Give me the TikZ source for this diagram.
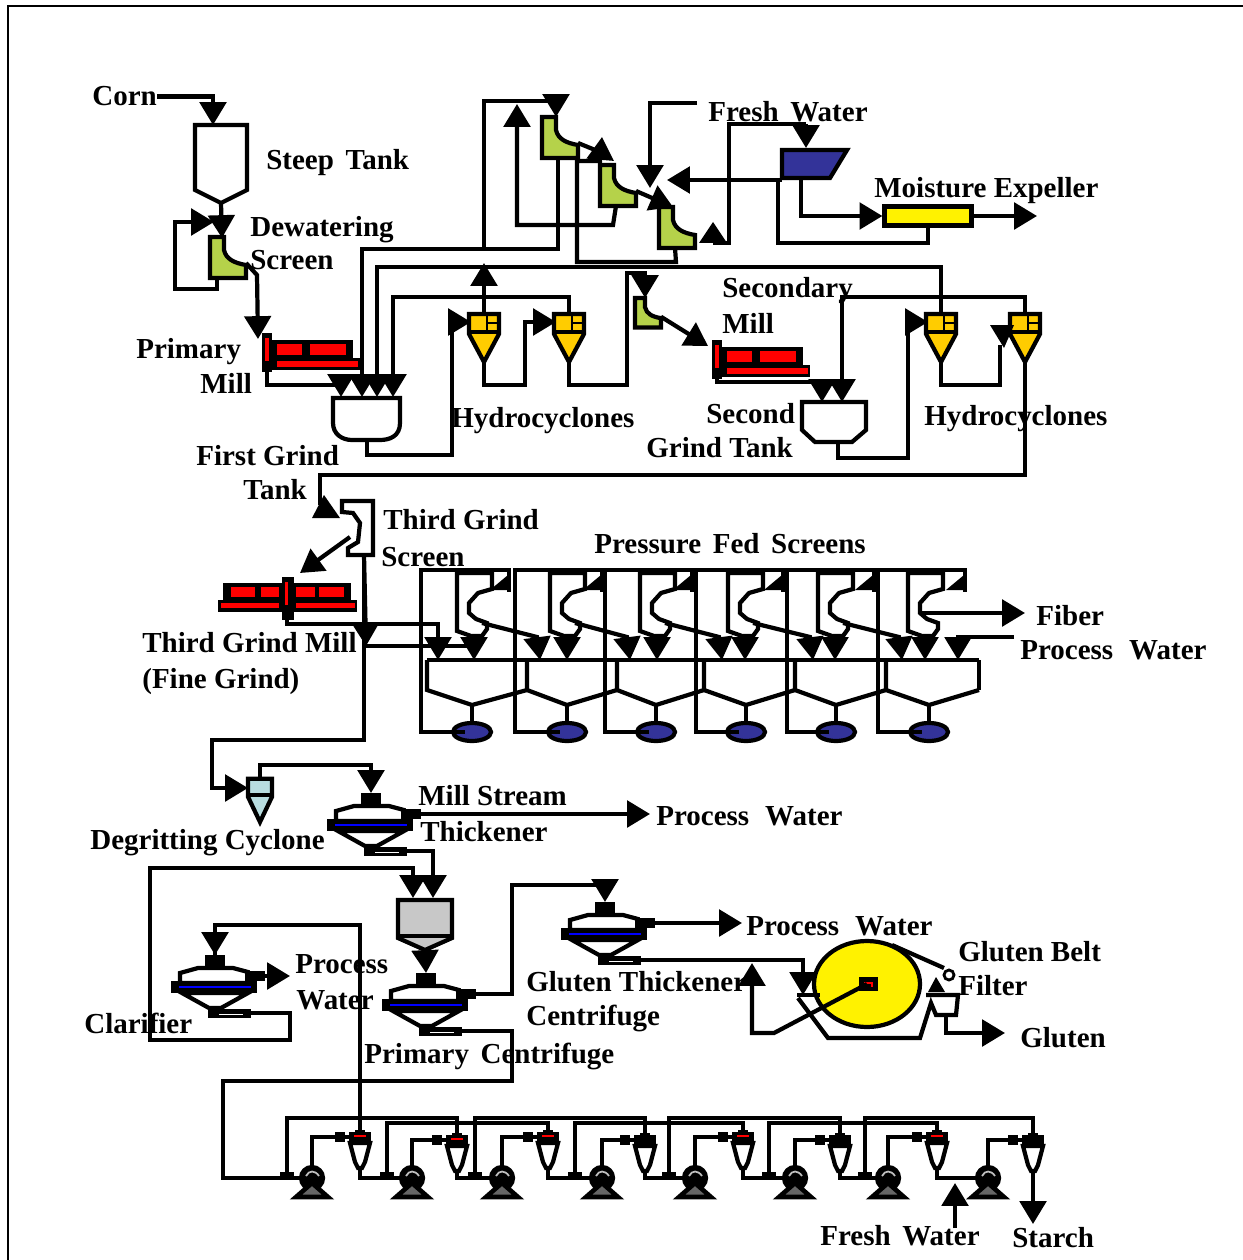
\documentclass[tikz,border=0pt]{standalone}
\usepackage{fontspec}
\setmainfont{Liberation Serif}
\usetikzlibrary{arrows.meta}
\definecolor{scrgreen}{HTML}{B5D24A}
\definecolor{hcyellow}{HTML}{FFCC00}
\definecolor{dcblue}{HTML}{B8DDE0}
\definecolor{pressblue}{HTML}{333399}
\definecolor{tankgray}{HTML}{C8C8C8}
\definecolor{pumpgray}{HTML}{666666}
\newcommand{\wsp}{\hspace{2.5pt}}

\begin{document}
\begin{tikzpicture}[x=.02cm,y=-.02cm,>={Triangle[length=13pt,width=15pt]},
    pipe/.style={draw,line width=2.4pt},
    flow/.style={pipe,->},
    lab/.style={font=\bfseries\fontsize{16.5}{18}\selectfont,inner sep=0pt,anchor=base west,yshift=-.5pt},
    pics/screen/.style={code={
        \draw[pipe,fill=scrgreen] (0,0) -- (14,0) -- (14,13) .. controls (16,22) and (24,26) .. (36,28) -- (36,41) -- (0,41) -- cycle;
        \coordinate (-in) at (14,0); \coordinate (-bot) at (16,41); \coordinate (-side) at (36,26);}},
    pics/cyclone/.style={code={
        \draw[pipe,fill=#1] (-15,2) -- (15,2) -- (15,22) -- (0,50) -- (-15,22) -- cycle;
        \draw[pipe] (-15,20) -- (15,20);
        \coordinate (-top) at (0,2); \coordinate (-bot) at (0,50); \coordinate (-in) at (-13,10);}},
    pics/mill/.style={code={
        \fill (0,0) rectangle (10,39); \fill (10,7) rectangle (91,25); \fill (10,25) rectangle (98,37);
        \fill[red] (3,5) rectangle (7,28); \fill[red] (15,11) rectangle (40,22);
        \fill[red] (48,11) rectangle (84,22); \fill[red] (15,28) rectangle (96,34);
        \coordinate (-in) at (-4,6); \coordinate (-out) at (5,39);}},
    pics/disc/.style={code={
        \draw[pipe,fill=white] (-35,-4) -- (-35,-14) -- (-17,-19) -- (18,-19) -- (33,-15) -- (35,-4) -- cycle;
        \draw[pipe,fill=white] (-33,6) -- (-6,21) -- (6,21) -- (33,6) -- cycle;
        \fill (-44,-6) rectangle (42,6); \draw[blue,line width=1.4pt] (-36,0) -- (36,0);
        \fill (-10,-32) rectangle (10,-20); \fill (30,-16) rectangle (50,-6);
        \fill (-7,22) rectangle (36,31); \draw[white,line width=.5pt] (4,27) -- (28,27);
        \coordinate (-in) at (0,-32); \coordinate (-out) at (50,-11); \coordinate (-drain) at (36,26);}},
    pics/pscreen/.style={code={
        \draw[pipe,fill=white] (0,0) -- (35,0) -- (35,16) -- (21,20) -- (12,30) -- (12,40) -- (19,46) -- (30,50) -- (30,56) -- (25,63) -- (14,63) -- (0,58) -- cycle;
        \coordinate (-bot) at (17,63); \coordinate (-tip) at (17,87); \coordinate (-side) at (25,50); \coordinate (-mid) at (12,40);}},
    pics/bluepump/.style={code={
        \draw[pipe,fill=pressblue] (0,0) ellipse (19 and 9);
        \draw[pipe] (-19,0) -- (-7,0);
        \coordinate (-top) at (0,-9); \coordinate (-left) at (-19,0);}},
    pics/smallcy/.style={code={
        \draw[pipe,fill=white] (-10,13) -- (-5,32) -- (-2,38) -- (2,38) -- (5,32) -- (10,13) -- cycle;
        \fill (-11,2) rectangle (11,14); \fill (-5,0) rectangle (5,3);
        \coordinate (-top) at (0,0); \coordinate (-bot) at (0,38); \coordinate (-in) at (-11,7);}},
    pics/pump/.style={code={
        \draw[pipe,fill=black] (0,0) circle (11);
        \draw[lightgray,line width=1pt] (-6,-2) .. controls (-3,-8) and (3,-8) .. (7,-2);
        \draw[line width=2.6pt,fill=pumpgray] (0,5) -- (16,19) -- (-16,19) -- cycle;
        \coordinate (-top) at (0,-11); \coordinate (-left) at (-11,0);}}]
    \useasboundingbox (0,0) rectangle (1243,1260);
    \draw[line width=1.2pt] (8,1260) |- (1243,6);

    % labels
    \node[lab] (corn) at (92,105) {Corn};
    \node[lab] (steeplab) at (266,169) {Steep\wsp\ Tank};
    \node[lab] (dewlab) at (250,236) {Dewatering};
    \node[lab] (dewlab2) at (250,269) {Screen};
    \node[lab] (pmlab) at (136,358) {Primary};
    \node[lab] (pmlab2) at (200,393) {Mill};
    \node[lab] (ftlab) at (196,465) {First Grind};
    \node[lab] (ftlab2) at (243,499) {Tank};
    \node[lab] (hclab) at (451,427) {Hydrocyclones};
    \node[lab] (fwlab) at (708,121) {Fresh\wsp\ Water};
    \node[lab] (melab) at (874,197) {Moisture Expeller};
    \node[lab] (smlab) at (722,297) {Secondary};
    \node[lab] (smlab2) at (722,333) {Mill};
    \node[lab] (stlab) at (706,423) {Second};
    \node[lab] (stlab2) at (646,457) {Grind Tank};
    \node[lab] (hclab2) at (924,425) {Hydrocyclones};
    \node[lab] (tglab) at (383,529) {Third Grind};
    \node[lab] (tglab2) at (381,566) {Screen};
    \node[lab] (tmlab) at (142,652) {Third Grind Mill};
    \node[lab] (tmlab2) at (142,688) {(Fine Grind)};
    \node[lab] (pflab) at (594,553) {Pressure\wsp\ Fed\wsp\ Screens};
    \node[lab] (fiblab) at (1036,625) {Fiber};
    \node[lab] (pwlab) at (1020,659) {Process\wsp\wsp\ Water};
    \node[lab] (mtlab) at (418,805) {Mill Stream};
    \node[lab] (mtlab2) at (420,841) {Thickener};
    \node[lab] (pwlab2) at (656,825) {Process\wsp\wsp\ Water};
    \node[lab] (dclab) at (90,849) {Degritting Cyclone};
    \node[lab] (pwlab3) at (295,973) {Process};
    \node[lab] (pwlab4) at (296,1009) {Water};
    \node[lab] (cllab) at (84,1033) {Clarifier};
    \node[lab] (pclab) at (364,1063) {Primary\wsp\ Centrifuge};
    \node[lab] (pwlab5) at (746,935) {Process\wsp\wsp\ Water};
    \node[lab] (gblab) at (958,961) {Gluten Belt};
    \node[lab] (gblab2) at (958,995) {Filter};
    \node[lab] (gtlab) at (526,991) {Gluten Thickener};
    \node[lab] (gtlab2) at (526,1025) {Centrifuge};
    \node[lab] (glulab) at (1020,1047) {Gluten};
    \node[lab] (fwlab2) at (820,1245) {Fresh\wsp\ Water};
    \node[lab] (stalab) at (1012,1247) {Starch};

    % steep tank, screens, mills
    \draw[pipe] (195,125) -- (247,125) -- (247,190) -- (221,203) -- (195,190) -- cycle;
    \coordinate (st-top) at (213,125);
    \coordinate (st-bot) at (221,203);
    \pic (ds) at (210,237) {screen};
    \coordinate (dsdrain) at (217,278);
    \foreach \n/\sx/\sy in {s1/542/117,s2/600/165,s3/659/207} {\pic (\n) at (\sx,\sy) {screen};}
    \pic[scale=.72] (ss) at (635,298) {screen};
    \pic (pm) at (262,333) {mill};
    \pic (sm) at (712,340) {mill};

    % hydrocyclones
    \foreach \n/\cx in {c1/484,c2/569,c3/941,c4/1025} {
        \pic (\n) at (\cx,312) {cyclone=hcyellow};
        \draw[line width=1.6pt] ({\cx+3},314) -- ({\cx+3},332) ({\cx+3},323) -- ({\cx+15},323);
    }

    % grind tanks
    \draw[pipe] (333,398) -- (400,398) -- (400,423) .. controls (400,436) and (390,440) .. (380,440) -- (352,440) .. controls (342,440) and (333,434) .. (333,423) -- cycle;
    \draw[pipe] (802,402) -- (866,402) -- (866,430) -- (852,442) -- (815,442) -- (802,430) -- cycle;
    \foreach \n/\tx/\ty in {ft1/341/397,ft2/362/397,ft3/377/397,ft4/393/397,ftout/367/440,st1/822/402,st2/842/402,stout/838/442} {\coordinate (\n) at (\tx,\ty);}

    % press and expeller
    \draw[pipe,fill=pressblue] (782,150) -- (847,150) -- (830,178) -- (782,178) -- cycle;
    \coordinate (pr-top) at (806,148);
    \coordinate (pr-left) at (782,180);
    \node[draw,line width=2.4pt,fill=yellow,minimum width=1.74cm,minimum height=.38cm,inner sep=0pt] (me) at (928,216) {};

    % steep tank to first tank
    \draw[flow] (corn.east) -| (st-top);
    \draw[flow] (st-bot) -- (222,238);
    \draw[flow] (dsdrain) -- (217,289) -- (175,289) -- (175,222) -- (214,222);
    \draw[flow] (ds-side) -- (257,275) -- (pm-in);
    \draw[flow] (pm-out) -- (267,385) -| (ft1);
    \draw[flow] (s1-bot) -- (558,249) -| (ft2);
    \draw[flow] (c3-top) -- (941,267) -| (ft3);
    \draw[flow] (c2-top) -- (569,297) -| (ft4);

    % germ washing
    \draw[flow] (c1-top) -- (484,263);
    \draw[flow] (484,250) -- (484,101) -| (s1-in);
    \draw[flow] (s2-bot) -- (613,225) -- (517,225) -- (517,104);
    \draw[flow] (s3-bot) -- (676,262) -- (577,262) -- (577,161) -- (600,161) -- (602,137);
    \draw[pipe] (s1-side) -- (600,152);
    \draw[flow] (s2-side) -- (s3-in);
    \coordinate (fw) at (697,103);
    \draw[flow] (fw) -| (650,188);
    \coordinate (lf) at (713,243);
    \draw[pipe] (lf) -- (729,243) -- (729,124) -- (806,124);
    \draw[flow] (806,124) -- (pr-top);
    \fill (699,243) -- (727,243) -- (713,222) -- cycle;
    \draw[flow] (pr-left) -- (667,180);
    \draw[pipe] (778,178) -- (778,243) -| (me.south);
    \draw[flow] (801,178) |- (me.west);
    \draw[flow] (me.east) -- (1037,216);

    % hydrocyclone train
    \draw[flow] (ftout) -- (367,455) -- (452,455) |- (c1-in);
    \draw[flow] (c1-bot) -- (484,385) -- (525,385) |- (c2-in);
    \draw[flow] (c2-bot) -- (569,385) -- (627,385) -- (627,273) -| (ss-in);
    \draw[flow] (ss-side) -- (sm-in);
    \draw[flow] (sm-out) -- (717,382) -| (st1);
    \draw[flow] (c4-top) -- (1025,297) -- (842,297) -- (st2);
    \draw[flow] (stout) -- (838,458) -- (908,458) |- (c3-in);
    \draw[pipe] (c3-bot) -- (941,385) -- (1000,385) -- (1000,345);
    \fill (990,325) -- (1014,325) -- (1004,348) -- cycle;
    \draw[pipe] (c4-bot) -- (1025,475) -- (320,475) -- (320,505);
    \fill (312,518) -- (340,518) -- (324,495) -- cycle;

    % third grind
    \draw[pipe] (342,501) -- (373,501) -- (373,555) -- (348,555) -- (348,548) -- (358,542) -- (360,523) -- (353,513) -- (342,512) -- cycle;
    \coordinate (tg-side) at (350,537);
    \coordinate (tg-bot) at (364,555);
    \coordinate (tm-in) at (300,573);
    \fill (223,583) rectangle (351,600); \fill (218,600) rectangle (357,612); \fill (282,577) rectangle (294,620);
    \foreach \ra/\rb/\rc/\rd in {231/587/255/597,261/587/279/597,296/587/315/597,319/587/344/597,221/603/279/608,296/603/355/608,285/582/288/605} {\fill[red] (\ra,\rb) rectangle (\rc,\rd);}
    \coordinate (tm-out) at (287,620);
    \draw[flow] (tg-side) -- (tm-in);
    \coordinate (tgmid) at (366,646);
    \draw[flow] (tg-bot) -- (tgmid);
    \draw[pipe] (tg-bot) -- (364,740) -- (212,740) -- (212,788);

    % pressure fed screens
    \foreach \i/\fl/\fr/\sx/\px/\wl/\wr in {1/421/509/457/472/427/527,2/515/602/550/567/527/617,3/605/692/640/656/617/704,4/696/783/728/746/704/795,5/787/874/818/836/795/886,6/878/965/908/929/886/979} {
        \pic (ps\i) at (\sx,573) {pscreen};
        \pic (bp\i) at (\px,732) {bluepump};
        \coordinate (tv\i) at (\px,705);
        \draw[pipe] (\wl,660) -- (\wr,660);
        \draw[pipe] (\wl,660) -- (\wl,690) -- (tv\i) -- (\wr,690);
        \draw[pipe] (tv\i) -- (bp\i-top);
        \draw[pipe] (bp\i-left) -- (\fl,732) -- (\fl,570) -- (\fr,570) -- (\fr,592);
        \fill ({\fr-19},590) -- ({\fr+1},590) -- ({\fr-1},575) -- cycle;
        \draw[flow] (ps\i-bot) -- (ps\i-tip);
    }
    \draw[pipe] (979,660) -- (979,690);
    \draw[flow] (tm-out) -- (287,624) -- (438,624) -- (438,660);
    \draw[pipe] (tgmid) -- (474,646);
    \foreach \i/\ax in {1/540,2/630,3/722,4/813,5/902} {
        \draw[flow] (ps\i-side) -- ({\ax-3},637) -- (\ax,660);
    }
    \draw[flow] (ps6-mid) -- (1025,613);
    \coordinate (pwin) at (1014,637);
    \draw[flow] (pwin) -| (958,660);

    % degritting and centrifuges
    \pic[xscale=.8,yscale=.9] (dc) at (260,777) {cyclone=dcblue};
    \coordinate (dc-side) at (248,788);
    \draw[flow] (212,770) -- (212,788) -- (dc-side);
    \pic (mt) at (371,825) {disc};
    \pic (gt) at (605,934) {disc};
    \pic (pc) at (426,1005) {disc};
    \pic (cl) at (215,987) {disc};
    \draw[pipe,fill=tankgray] (398,900) -- (452,900) -- (452,938) -- (425,950) -- (398,938) -- cycle;
    \draw[pipe] (398,936) -- (452,936);
    \coordinate (gr1) at (413,898);
    \coordinate (gr2) at (433,898);
    \coordinate (gr-bot) at (425,950);
    \draw[flow] (dc-top) -- (260,765) -| (mt-in);
    \draw[flow] (mt-out) -- (650,814);
    \draw[flow] (mt-drain) -| (gr2);
    \draw[flow] (gr-bot) -- (pc-in);
    \draw[flow] (cl-drain) -- (290,1013) -- (290,1040) -- (150,1040) -- (150,868) -| (gr1);
    \draw[flow] (cl-out) -- (290,976);
    \draw[flow] (pc-out) -- (512,994) -- (512,885) -| (gt-in);
    \draw[flow] (gt-out) -- (742,923);

    % gluten belt filter
    \draw[pipe,fill=yellow] (867,984) ellipse (53 and 43);
    \fill (859,977) rectangle (878,991);
    \draw[red,line width=1pt] (864,983) -- (872,983) -- (872,987);
    \coordinate (hub) at (867,984);
    \coordinate (dr-in) at (803,995);
    \draw[flow] (gt-drain) -| (dr-in);
    \draw[flow] (hub) -- (774,1033) -- (752,1033) -- (752,963);
    \draw[pipe] (797,995) -- (820,995);
    \draw[pipe] (798,998) -- (828,1038) -- (920,1038) -- (931,1003) -- (936,1015) -- (956,1015) -- (958,995) -- (926,995);
    \draw[pipe] (892,945) -- (944,968);
    \draw[line width=1.6pt] (949,975) circle (5);
    \fill (928,992) -- (945,992) -- (936,977) -- cycle;
    \coordinate (gb-out) at (946,1015);
    \draw[flow] (gb-out) |- (1005,1033);

    % starch washing
    \foreach \i/\cx/\cy/\ct in {1/360/1130/1,2/457/1133/1,3/548/1130/1,4/645/1133/0,5/743/1130/1,6/840/1133/0,7/937/1130/1,8/1033/1133/0} {
        \pic (w\i) at (\cx,\cy) {smallcy};
        \fill ({\cx-25},{\cy+2}) rectangle ({\cx-15},{\cy+12});
        \ifnum\ct=1 \draw[red,line width=1.2pt] ({\cx-6},{\cy+6}) -- ({\cx+6},{\cy+6}); \fi
    }
    \foreach \i/\px in {1/312,2/412,3/502,4/602,5/695,6/795,7/888,8/988} {
        \pic (p\i) at (\px,1178) {pump};
        \draw[pipe] (p\i-top) |- (w\i-in);
    }
    \foreach \i/\j in {1/2,2/3,3/4,4/5,5/6,6/7,7/8} {\draw[pipe] (w\i-bot) |- (p\j-left);}
    \foreach \k/\bx/\ty in {2/287/1118,3/387/1123,4/475/1118,5/575/1123,6/669/1118,7/769/1123,8/865/1118} {
        \coordinate (b\k) at (\bx,1175);
        \fill ({\bx-7},1172) rectangle ({\bx+7},1178);
        \draw[pipe] (b\k) -- (\bx,\ty) -| (w\k-top);
    }
    \draw[pipe] (pc-drain) -- (512,1031) -- (512,1081) -- (223,1081) -- (223,1178) -- (p1-left);
    \draw[pipe] (w1-top) -- (360,925) -| (cl-in);
    \draw[flow] (215,930) -- (cl-in);
    \coordinate (fwup) at (955,1228);
    \draw[flow] (fwup) -- (955,1183);
    \draw[flow] (w8-bot) -- (1033,1224);
\end{tikzpicture}
\end{document}
